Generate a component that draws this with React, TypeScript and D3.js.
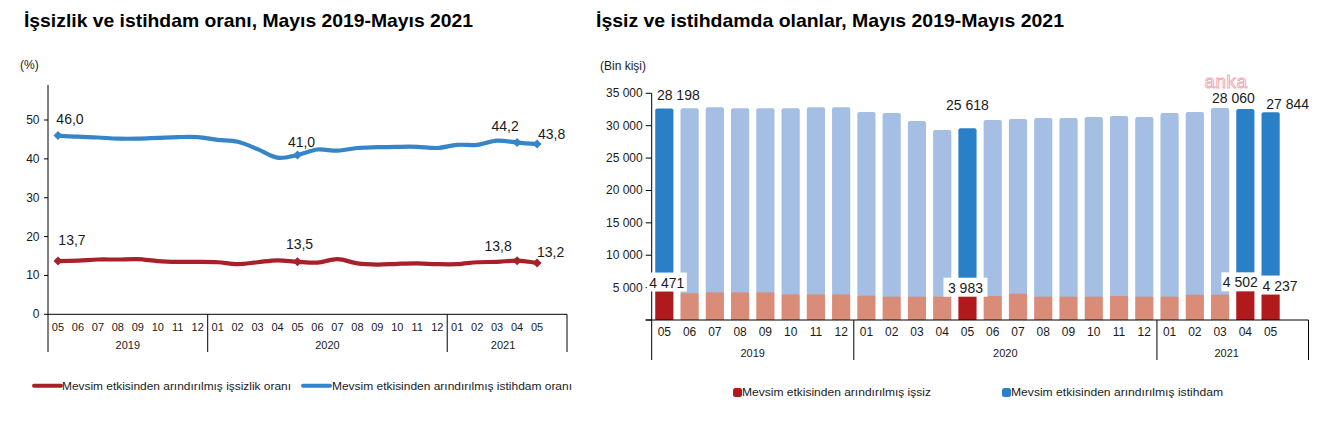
import React from 'react';
import * as d3 from 'd3';

// months from 2019-05 to 2021-05
const months = [
  '05', '06', '07', '08', '09', '10', '11', '12',
  '01', '02', '03', '04', '05', '06', '07', '08', '09', '10', '11', '12',
  '01', '02', '03', '04', '05',
];
const yearLabels = ['2019', '2020', '2021'];
const yearCounts = [8, 12, 5];

// seasonally adjusted rates (%)
const unemploymentRate = [
  13.7, 13.8, 14.1, 14.1, 14.2, 13.7, 13.5, 13.5,
  13.4, 12.9, 13.4, 13.9, 13.5, 13.3, 14.2, 13.1, 12.8, 13.0, 13.1, 12.9,
  12.9, 13.4, 13.5, 13.8, 13.2,
];
const employmentRate = [
  46.0, 45.7, 45.5, 45.2, 45.2, 45.4, 45.6, 45.6,
  44.9, 44.4, 42.5, 40.3, 41.0, 42.4, 42.1, 42.8, 43.0, 43.1, 43.1, 42.8,
  43.6, 43.6, 44.7, 44.2, 43.8,
];

// thousand persons
const unemployed = [
  4471, 4120, 4270, 4270, 4270, 3960, 3960, 3960,
  3750, 3600, 3600, 3600, 3983, 3700, 4060, 3600, 3600, 3600, 3700, 3600,
  3600, 3910, 3910, 4502, 4237,
];
const employed = [
  28198, 28560, 28570, 28410, 28410, 28720, 28880, 28880,
  28360, 28350, 27120, 25730, 25618, 27180, 26980, 27590, 27590, 27750, 27800, 27750,
  28360, 28200, 28820, 28060, 27844,
];

const highlighted = [0, 12, 23, 24];
const leftTicks = [0, 10, 20, 30, 40, 50];
const rightTicks = [5000, 10000, 15000, 20000, 25000, 30000, 35000];

const titleLeft = 'İşsizlik ve istihdam oranı, Mayıs 2019-Mayıs 2021';
const titleRight = 'İşsiz ve istihdamda olanlar, Mayıs 2019-Mayıs 2021';
const legendLeft = ['Mevsim etkisinden arındırılmış işsizlik oranı', 'Mevsim etkisinden arındırılmış istihdam oranı'];
const legendRight = ['Mevsim etkisinden arındırılmış işsiz', 'Mevsim etkisinden arındırılmış istihdam'];

// label placement (style only)
const rateLabelPos = {
  emp: [
    { dx: 12, dy: -12, anchor: 'middle' },
    { dx: 4, dy: -8, anchor: 'middle' },
    { dx: -12, dy: -12, anchor: 'middle' },
    { dx: 1, dy: -5, anchor: 'start' },
  ],
  unemp: [
    { dx: 14, dy: -16, anchor: 'middle' },
    { dx: 2, dy: -13, anchor: 'middle' },
    { dx: -19, dy: -10, anchor: 'middle' },
    { dx: 0, dy: -6, anchor: 'start' },
  ],
};
const barLabelPos = {
  emp: [
    { dx: 14, dy: -8 },
    { dx: 0, dy: -18 },
    { dx: -12, dy: -6 },
    { dx: 17, dy: -3 },
  ],
  unemp: [
    { dx: 2.5, dy: -3.5, w: 40 },
    { dx: -2, dy: -1.5, w: 44 },
    { dx: -5, dy: -3.5, w: 38 },
    { dx: 9.5, dy: -2, w: 40 },
  ],
};
const yearShift: Record<string, number> = { '2019': 0, '2020': 0, '2021': -4 };

const FONT = '"Liberation Sans", Arial, sans-serif';
const C = {
  lineRed: '#a8202a',
  lineBlue: '#3585c8',
  darkRed: '#b01a1c',
  lightRed: '#d98c78',
  darkBlue: '#2a80c6',
  lightBlue: '#a4bfe3',
  axis: '#000',
  text: '#1a1a1a',
};

const locale = d3.formatLocale({ decimal: ',', thousands: ' ', grouping: [3], currency: ['', ''] });
const fmtRate = locale.format('.1f');
const fmtInt = locale.format(',d');

const slots = d3.range(26);

const diamond = (x: number, y: number, r = 4.5) =>
  `M${x},${y - r}L${x + r},${y}L${x},${y + r}L${x - r},${y}Z`;

function groupBounds(x: d3.ScaleBand<number>, end: number) {
  const out: { start: number; end: number; label: string }[] = [];
  let idx = 0;
  yearCounts.forEach((n, g) => {
    const s = x(idx)!;
    idx += n;
    const e = g === yearCounts.length - 1 ? end : x(idx)!;
    out.push({ start: s, end: e, label: yearLabels[g] });
  });
  return out;
}

const LeftChart: React.FC = () => {
  const x0 = 48, x1 = 567, yBase = 314.3, yTop = 85, yBottom = 352;
  const x = d3.scaleBand<number>().domain(slots).range([x0, x1]).padding(0);
  const y = d3.scaleLinear().domain([0, 50]).range([yBase, 120]);
  const cx = (i: number) => x(i)! + x.bandwidth() / 2;
  const line = d3.line<number>().x((_, i) => cx(i)).y((d) => y(d)).curve(d3.curveCatmullRom.alpha(0.5));
  const groups = groupBounds(x, x1);

  const series = [
    { data: unemploymentRate, color: C.lineRed, pos: rateLabelPos.unemp },
    { data: employmentRate, color: C.lineBlue, pos: rateLabelPos.emp },
  ];

  return (
    <g>
      <text x={24} y={27} fontSize={19} fontWeight="bold" fill="#000" textLength={449} lengthAdjust="spacingAndGlyphs">{titleLeft}</text>
      <text x={20} y={69} fontSize={12} fill={C.text}>(%)</text>

      {leftTicks.map((t) => (
        <g key={t}>
          <line x1={x0 - 4} x2={x0} y1={y(t)} y2={y(t)} stroke={C.axis} />
          <text x={39.5} y={y(t) + 4} fontSize={12} textAnchor="end" fill={C.text}>{t}</text>
        </g>
      ))}

      <line x1={x0} x2={x0} y1={yTop} y2={yBottom} stroke={C.axis} />
      <line x1={x0} x2={x1} y1={yBase} y2={yBase} stroke={C.axis} />
      {groups.map((g) => (
        <g key={g.label}>
          <line x1={g.end} x2={g.end} y1={yBase} y2={yBottom} stroke={C.axis} />
          <text x={(g.start + g.end) / 2 + yearShift[g.label]} y={348.5} fontSize={11} textAnchor="middle" fill={C.text}>{g.label}</text>
        </g>
      ))}
      {months.map((m, i) => (
        <text key={i} x={cx(i)} y={331} fontSize={11} textAnchor="middle" fill={C.text}>{m}</text>
      ))}

      {series.map((s, k) => (
        <g key={k}>
          <path d={line(s.data)!} fill="none" stroke={s.color} strokeWidth={4.2} strokeLinejoin="round" strokeLinecap="round" />
          {highlighted.map((i, j) => (
            <g key={i}>
              <path d={diamond(cx(i), y(s.data[i]))} fill={s.color} />
              <text
                x={cx(i) + s.pos[j].dx}
                y={y(s.data[i]) + s.pos[j].dy}
                fontSize={14}
                textAnchor={s.pos[j].anchor}
                fill={C.text}
              >
                {fmtRate(s.data[i])}
              </text>
            </g>
          ))}
        </g>
      ))}

      <line x1={34} x2={61} y1={385.7} y2={385.7} stroke={C.lineRed} strokeWidth={4} strokeLinecap="round" />
      <text x={62} y={389.7} fontSize={11} fill={C.text} textLength={229} lengthAdjust="spacingAndGlyphs">{legendLeft[0]}</text>
      <line x1={303} x2={330} y1={385.7} y2={385.7} stroke={C.lineBlue} strokeWidth={4} strokeLinecap="round" />
      <text x={332} y={389.7} fontSize={11} fill={C.text} textLength={240} lengthAdjust="spacingAndGlyphs">{legendLeft[1]}</text>
    </g>
  );
};

const RightChart: React.FC = () => {
  const x0 = 651.7, x1 = 1308.5, yBase = 320, yBottom = 360;
  const xs = d3.scaleBand<number>().domain(slots).range([x0, x1]).padding(0);
  const y = d3.scaleLinear().domain([0, 35000]).range([yBase, 93.3]);
  const cx = (i: number) => xs(i)! + xs.bandwidth() / 2;
  const bw = xs.bandwidth() * 0.72;
  const groups = groupBounds(xs, x1);
  const isHi = (i: number) => highlighted.includes(i);

  return (
    <g>
      <text x={596} y={27} fontSize={19} fontWeight="bold" fill="#000" textLength={468} lengthAdjust="spacingAndGlyphs">{titleRight}</text>
      <text x={600} y={70} fontSize={12} fill={C.text}>(Bin kişi)</text>

      {rightTicks.map((t) => (
        <text key={t} x={642.7} y={y(t) + 4} fontSize={12} textAnchor="end" fill={C.text}>{fmtInt(t)}</text>
      ))}
      {[0, ...rightTicks].map((t) => (
        <line key={t} x1={x0 - 6} x2={x0} y1={y(t)} y2={y(t)} stroke={C.axis} />
      ))}

      {months.map((_, i) => {
        const top = unemployed[i] + employed[i];
        return (
          <g key={i}>
            <rect
              x={cx(i) - bw / 2}
              y={y(top)}
              width={bw}
              height={y(unemployed[i]) - y(top) + 1}
              rx={2}
              fill={isHi(i) ? C.darkBlue : C.lightBlue}
            />
            <rect
              x={cx(i) - bw / 2}
              y={y(unemployed[i])}
              width={bw}
              height={yBase - y(unemployed[i])}
              fill={isHi(i) ? C.darkRed : C.lightRed}
            />
          </g>
        );
      })}

      <line x1={x0} x2={x0} y1={y(35000)} y2={yBottom} stroke={C.axis} />
      <line x1={x0 - 6} x2={x1} y1={yBase} y2={yBase} stroke={C.axis} />
      {groups.map((g) => (
        <g key={g.label}>
          <line x1={g.end} x2={g.end} y1={yBase} y2={yBottom} stroke={C.axis} />
          <text x={(g.start + g.end) / 2 + yearShift[g.label] * 1.5} y={356.5} fontSize={11} textAnchor="middle" fill={C.text}>{g.label}</text>
        </g>
      ))}
      {months.map((m, i) => (
        <text key={i} x={cx(i)} y={336} fontSize={12} textAnchor="middle" fill={C.text}>{m}</text>
      ))}

      {highlighted.map((i, j) => {
        const pe = barLabelPos.emp[j];
        const pu = barLabelPos.unemp[j];
        const top = unemployed[i] + employed[i];
        const ux = cx(i) + pu.dx;
        const uy = y(unemployed[i]) + pu.dy;
        return (
          <g key={i}>
            <text x={cx(i) + pe.dx} y={y(top) + pe.dy} fontSize={14} textAnchor="middle" fill={C.text}>{fmtInt(employed[i])}</text>
            <rect x={ux - pu.w / 2} y={uy - 15} width={pu.w} height={19} fill="#fff" />
            <text x={ux} y={uy} fontSize={14} textAnchor="middle" fill={C.text}>{fmtInt(unemployed[i])}</text>
          </g>
        );
      })}

      <text x={1226} y={88} fontSize={19} textAnchor="middle" fill="#fff" stroke="#f2a6b0" strokeWidth={0.9} letterSpacing={0.5}>anka</text>

      <rect x={733} y={388} width={9} height={9} rx={2.5} fill={C.darkRed} />
      <text x={742} y={396} fontSize={11} fill={C.text} textLength={189} lengthAdjust="spacingAndGlyphs">{legendRight[0]}</text>
      <rect x={1002} y={388} width={9} height={9} rx={2.5} fill={C.darkBlue} />
      <text x={1011} y={396} fontSize={11} fill={C.text} textLength={212} lengthAdjust="spacingAndGlyphs">{legendRight[1]}</text>
    </g>
  );
};

export default function App() {
  return (
    <svg
      width={1328}
      height={421}
      style={{ position: 'absolute', left: 0, top: 0, background: '#fff', fontFamily: FONT }}
    >
      <rect width={1328} height={421} fill="#fff" />
      <LeftChart />
      <RightChart />
    </svg>
  );
}
